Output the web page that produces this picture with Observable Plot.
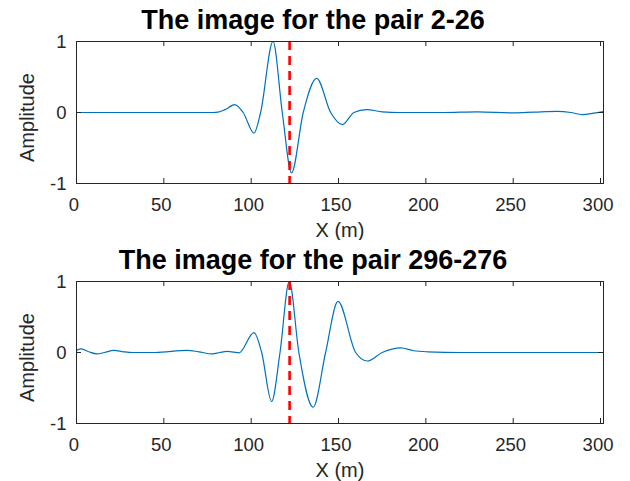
<!DOCTYPE html>
<html>
<head>
<meta charset="utf-8">
<script src="https://cdn.jsdelivr.net/npm/d3@7"></script>
<script src="https://cdn.jsdelivr.net/npm/@observablehq/plot@0.6"></script>
<style>
  html, body { margin: 0; padding: 0; background: #fff; }
  #wrap { position: relative; width: 630px; height: 481px; overflow: hidden; }
  #wrap > div { position: absolute; left: 0; }
  svg { display: block; }
</style>
</head>
<body>
<div id="wrap"><div id="p1" style="top:0"></div><div id="p2" style="top:240px"></div></div>
<script>
// ---- data ----
const titles = ["The image for the pair 2-26", "The image for the pair 296-276"];
const xLabel = "X (m)";
const yLabel = "Amplitude";
const xTicks = [0, 50, 100, 150, 200, 250, 300];
const yTicks = [-1, 0, 1];
const xDomain = [0, 301.7];
const pickX = [122];

const topX = [0, 40, 78, 81, 85, 90.5, 95.4, 101.6, 105.4, 112.5, 117.8, 123.1, 129.8, 137.5, 145.5, 152.2, 158.8, 166, 175, 185, 210, 229.5, 250, 262, 275.3, 283, 289.6, 296, 301.7];
const topY = [0, 0, 0, 0.005, 0.04, 0.11, 0, -0.29, 0, 1.0, 0, -0.85, 0, 0.48, 0, -0.17, 0, 0.04, 0.01, 0, 0, 0.01, -0.005, 0.005, 0.015, 0, -0.03, -0.01, 0.015];

const botX = [0, 2.7, 7, 11.8, 16, 21.4, 27, 32, 45, 63.4, 70, 77.7, 82, 86.3, 90, 93, 101.6, 106, 111.7, 116.5, 121.8, 127.3, 135.5, 142.6, 149.7, 159.8, 166.5, 175, 185.6, 193, 201, 220, 301.7];
const botY = [0.03, 0.05, 0.01, -0.02, 0, 0.03, 0.01, 0, 0, 0.03, 0.01, -0.02, 0, 0.015, 0.005, -0.005, 0.28, 0, -0.69, 0, 1.0, 0, -0.77, 0, 0.72, 0, -0.12, 0, 0.065, 0.025, 0.01, 0, 0];

// ---- drawing ----
const W = 630, ML = 76, MR = 27, MT = 41;
const innerH = 142, innerW = W - ML - MR;
const font = "'Liberation Sans', Arial, Helvetica, sans-serif";
const ink = "#262626";

function panel(xs, ys, title, height) {
  const data = xs.map((x, i) => ({x, y: ys[i]}));
  return Plot.plot({
    width: W, height,
    marginLeft: ML, marginRight: MR, marginTop: MT, marginBottom: height - MT - innerH,
    style: {fontFamily: font, background: "white", overflow: "visible"},
    x: {domain: xDomain, axis: null},
    y: {domain: [-1, 1], axis: null},
    marks: [
      Plot.line(data, {x: "x", y: "y", stroke: "#0072BD", strokeWidth: 1.2, curve: "monotone-x", clip: true}),
      Plot.ruleX(pickX, {x: d => d, stroke: "#ff0000", strokeWidth: 2.6, strokeDasharray: "9,6"}),
      Plot.frame({stroke: ink, strokeWidth: 1}),
      Plot.tickX(xTicks, {x: d => d, stroke: ink, insetTop: innerH - 5}),
      Plot.tickX(xTicks, {x: d => d, stroke: ink, insetBottom: innerH - 5}),
      Plot.tickY(yTicks, {y: d => d, stroke: ink, insetRight: innerW - 5}),
      Plot.tickY(yTicks, {y: d => d, stroke: ink, insetLeft: innerW - 5}),
      Plot.text(xTicks, {x: d => d, text: d => String(d), frameAnchor: "bottom", dy: 22, dx: -2.5, fontSize: 18.5, fill: ink, lineAnchor: "middle"}),
      Plot.text(yTicks, {y: d => d, text: d => String(d), frameAnchor: "left", dx: -10, dy: 1, textAnchor: "end", fontSize: 18.5, fill: ink, lineAnchor: "middle"}),
      Plot.text([xLabel], {text: d => d, frameAnchor: "bottom", dy: 47, fontSize: 20, fill: ink, lineAnchor: "middle"}),
      Plot.text([yLabel], {text: d => d, frameAnchor: "left", dx: -49, dy: 5, rotate: -90, textAnchor: "middle", fontSize: 20, fill: ink, lineAnchor: "middle"}),
      Plot.text([title], {text: d => d, frameAnchor: "top", dx: -27, dy: -21, fontSize: 27, fontWeight: "bold", fill: "#000", lineAnchor: "middle"})
    ]
  });
}

document.getElementById("p1").appendChild(panel(topX, topY, titles[0], 240));
document.getElementById("p2").appendChild(panel(botX, botY, titles[1], 241));
</script>
</body>
</html>
